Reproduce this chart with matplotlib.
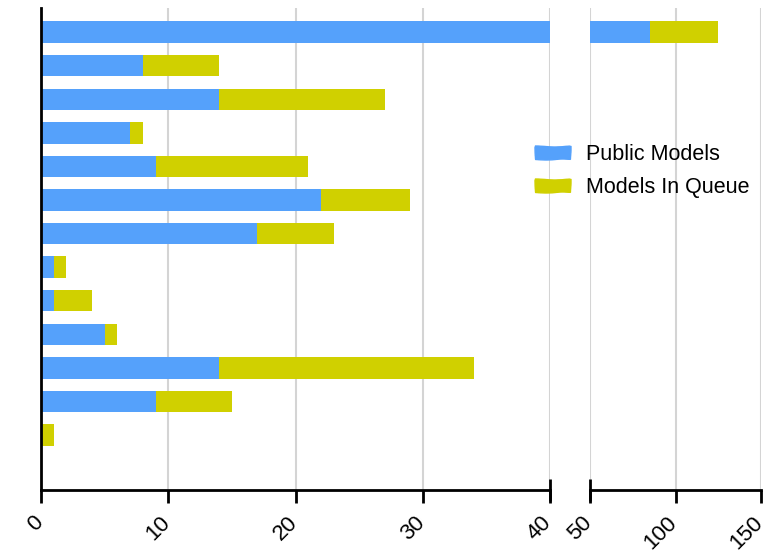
import matplotlib
matplotlib.use("Agg")
import matplotlib.pyplot as plt
import matplotlib.transforms as mtransforms
from matplotlib.patches import Patch
import numpy as np

# rows listed top to bottom
rows = list(range(13))
public_models = [85, 8, 14, 7, 9, 22, 17, 1, 1, 5, 14, 9, 0]
models_in_queue = [40, 6, 13, 1, 12, 7, 6, 1, 3, 1, 20, 6, 1]

left_ticks = [0, 10, 20, 30, 40]
right_ticks = [50, 100, 150]

blue = "#55a1fb"
yellow = "#d0d000"

plt.rcParams["font.family"] = ["Liberation Sans", "DejaVu Sans"]

fig = plt.figure(figsize=(7.84, 5.58), dpi=100)
ax1 = fig.add_axes([41 / 784, 1 - 490 / 558, 509 / 784, 482 / 558])
ax2 = fig.add_axes([590 / 784, 1 - 490 / 558, 171 / 784, 482 / 558], sharey=ax1)

pub = np.array(public_models)
que = np.array(models_in_queue)
y = np.array(rows)

# shift tick labels a little to the right of their ticks
offset = mtransforms.ScaledTranslation(6 / 100, 0, fig.dpi_scale_trans)

for ax, lim, ticks in [(ax1, (0, 40), left_ticks), (ax2, (50, 150), right_ticks)]:
    ax.barh(y, pub, height=0.64, color=blue, zorder=3)
    ax.barh(y, que, left=pub, height=0.64, color=yellow, zorder=3)
    ax.set_xlim(*lim)
    ax.set_xticks(ticks)
    ax.set_xticklabels([str(t) for t in ticks], rotation=45, ha="right",
                       fontsize=16)
    ax.grid(axis="x", color="#d4d4d4", linewidth=1.5, zorder=0)
    ax.tick_params(axis="x", direction="out", length=9.5, width=2, pad=6.5)
    ax.tick_params(axis="y", left=False, labelleft=False)
    for s in ["top", "right"]:
        ax.spines[s].set_visible(False)
    for s in ["bottom", "left"]:
        ax.spines[s].set_linewidth(2)
        ax.spines[s].set_zorder(4)
    for lab in ax.get_xticklabels():
        lab.set_transform(lab.get_transform() + offset)

ax2.spines["left"].set_visible(False)
ax1.set_ylim(13.64, -0.72)

# break marks at the ends of the split axis
ax1.plot([40], [0], marker="|", markersize=16, mew=2, color="black",
         transform=ax1.get_xaxis_transform(), clip_on=False, zorder=5)
ax2.plot([50], [0], marker="|", markersize=16, mew=2, color="black",
         transform=ax2.get_xaxis_transform(), clip_on=False, zorder=5)

handles = [Patch(color=blue, label="Public Models"),
           Patch(color=yellow, label="Models In Queue")]
for h in handles:
    h.set_sketch_params(0.5, 40, 2)
leg = fig.legend(handles=handles, loc="upper left", bbox_to_anchor=(516 / 784, 1 - 125 / 558),
                 frameon=False, fontsize=15.5, handlelength=1.6, handleheight=0.55,
                 labelspacing=0.55, handletextpad=0.75)

fig.savefig("out.png", dpi=100)
